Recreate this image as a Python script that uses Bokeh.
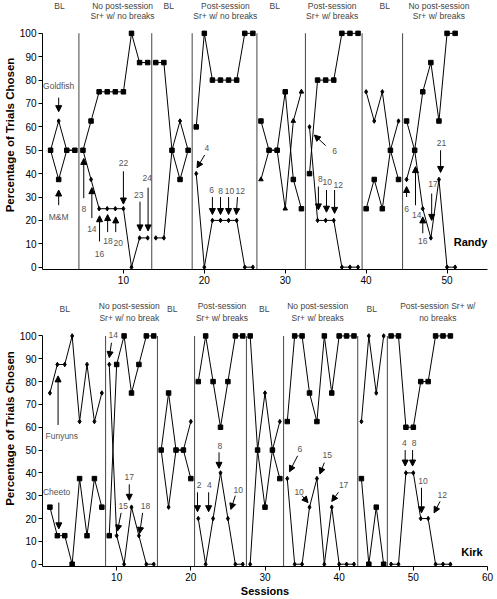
import math
from bokeh.plotting import figure
from bokeh.models import (ColumnDataSource, FixedTicker, Arrow, NormalHead, Range1d)
from bokeh.layouts import column
from bokeh.embed import file_html
from bokeh.resources import INLINE
from bokeh.core.properties import value

FONT = "Liberation Sans"

# ---------------- Randy (top panel) ----------------
randy_sessions = list(range(1, 52))
randy_a = [50, 37.5, 50, 50,
           50, 62.5, 75, 75, 75, 75, 100, 87.5, 87.5,
           87.5, 87.5, 50, 37.5, 50,
           60, 100, 80, 80, 80, 80, 100, 100,
           62.5, 50, 50, 75, 37.5, 25,
           40, 80, 80, 80, 100, 100, 100,
           25, 37.5, 25, 50, 37.5,
           62.5, 50, 75, 87.5, 62.5, 100, 100]
randy_b = [50, 62.5, 50, 50,
           50, 37.5, 25, 25, 25, 25, 0, 12.5, 12.5,
           12.5, 12.5, 50, 62.5, 50,
           40, 0, 20, 20, 20, 20, 0, 0,
           37.5, 50, 50, 25, 62.5, 75,
           60, 20, 20, 20, 0, 0, 0,
           75, 62.5, 75, 50, 62.5,
           37.5, 50, 25, 12.5, 37.5, 0, 0]
randy_phases = [4.5, 13.5, 18.5, 26.5, 32.5, 39.5, 44.5]
randy_xticks = [10, 20, 30, 40, 50]
randy_head1 = ["BL", "No post-session", "BL", "Post-session", "BL",
               "Post-session", "BL", "No post-session"]
randy_head2 = ["", "Sr+ w/ no breaks", "", "Sr+ w/ no breaks", "",
               "Sr+ w/ breaks", "", "Sr+ w/ breaks"]
randy_head_x = [2.1, 9.9, 15.6, 22.6, 28.7, 35.8, 42.3, 49.0]

randy_note_text = ["Goldfish", "M&M", "8", "14", "16", "18", "20", "22", "23", "24",
                   "4", "6", "8", "10", "12",
                   "6", "8", "10", "12",
                   "6", "14", "16", "17", "21"]
randy_note_x0 = [2.0, 2.0, 5.1, 6.1, 7.05, 8.05, 9.05, 10.0, 12.05, 13.05,
                 20.05, 21.0, 22.0, 23.0, 24.1,
                 35.0, 34.1, 35.1, 36.1,
                 45.0, 46.1, 47.0, 48.1, 49.2]
randy_note_y0 = [72.5, 26.5, 29.5, 21.0, 11.0, 15.0, 15.0, 41.0, 28.0, 34.0,
                 48.0, 30.0, 30.0, 30.0, 30.0,
                 52.0, 34.5, 33.0, 33.0,
                 30.0, 26.5, 14.5, 31.5, 50.0]
randy_note_x1 = [2.0, 2.0, 5.1, 6.1, 7.05, 8.05, 9.05, 10.0, 12.05, 13.05,
                 19.1, 21.0, 22.0, 23.0, 23.95,
                 33.6, 34.1, 35.1, 36.1,
                 45.0, 46.1, 47.0, 48.1, 49.2]
randy_note_y1 = [66.5, 33.0, 46.5, 34.0, 22.0, 22.5, 21.5, 27.0, 15.5, 15.5,
                 42.5, 22.5, 22.5, 22.5, 22.5,
                 56.5, 24.5, 23.5, 23.0,
                 34.5, 43.0, 21.5, 20.0, 40.5]
randy_note_lx = [2.0, 2.0, 5.1, 6.1, 7.05, 8.1, 9.35, 10.0, 11.9, 12.95,
                 20.3, 20.9, 22.0, 23.1, 24.45,
                 36.1, 34.35, 35.2, 36.55,
                 45.0, 46.25, 47.0, 48.25, 49.3]
randy_note_ly = [77.5, 21.5, 25.0, 16.5, 5.5, 11.0, 10.5, 44.5, 31.0, 38.0,
                 51.0, 33.0, 32.5, 32.5, 32.5,
                 49.5, 37.5, 36.5, 35.0,
                 25.0, 22.5, 11.0, 35.5, 53.0]

# ---------------- Kirk (bottom panel) ----------------
kirk_sessions = list(range(1, 56))
kirk_a = [25, 12.5, 12.5, 0, 37.5, 12.5, 37.5, 25,
          12.5, 87.5, 100, 75, 87.5, 100, 100,
          50, 75, 50, 50, 37.5,
          80, 100, 80, 60, 80, 100, 100,
          100, 50, 25, 50, 37.5,
          62.5, 100, 100, 75, 62.5, 100, 75, 100, 100, 100,
          37.5, 0, 25, 0,
          100, 100, 60, 60, 80, 80, 100, 100, 100]
kirk_b = [75, 87.5, 87.5, 100, 62.5, 87.5, 62.5, 75,
          87.5, 12.5, 0, 25, 12.5, 0, 0,
          50, 25, 50, 50, 62.5,
          20, 0, 20, 40, 20, 0, 0,
          0, 50, 75, 50, 62.5,
          37.5, 0, 0, 25, 37.5, 0, 25, 0, 0, 0,
          62.5, 100, 75, 100,
          0, 0, 40, 40, 20, 20, 0, 0, 0]
kirk_phases = [8.5, 15.5, 20.5, 27.5, 32.5, 42.5, 46.5]
kirk_xticks = [10, 20, 30, 40, 50, 60]
kirk_head1 = ["BL", "No post-session", "BL", "Post-session", "BL",
              "No post-session", "BL", "Post-session Sr+ w/"]
kirk_head2 = ["", "Sr+ w/ no break", "", "Sr+ w/ breaks", "",
              "Sr+ w/ breaks", "", "no breaks"]
kirk_head_x = [3.0, 11.7, 17.5, 24.2, 29.9, 37.1, 44.4, 53.3]

kirk_note_text = ["Funyuns", "Cheeto", "14", "15", "17", "18",
                  "2", "4", "8", "10",
                  "6", "10", "15", "17",
                  "4", "8", "10", "12"]
kirk_note_x0 = [2.1, 2.2, 9.3, 10.6, 11.7, 13.5,
                20.9, 22.4, 23.8, 26.0,
                34.4, 35.0, 38.0, 39.9,
                48.9, 49.9, 51.1, 53.6]
kirk_note_y0 = [61.0, 27.0, 97.0, 22.5, 35.0, 22.5,
                31.5, 31.5, 49.0, 30.0,
                47.5, 30.0, 44.5, 31.5,
                50.0, 50.0, 33.5, 27.5]
kirk_note_x1 = [2.1, 2.2, 9.0, 10.1, 11.7, 13.1,
                20.9, 22.4, 23.8, 25.4,
                33.3, 35.8, 37.4, 39.0,
                48.9, 49.9, 51.1, 52.8]
kirk_note_y1 = [82.5, 15.5, 90.5, 14.5, 28.0, 13.5,
                23.0, 23.0, 42.0, 24.0,
                40.5, 27.0, 39.5, 27.5,
                43.0, 43.0, 22.5, 22.5]
kirk_note_lx = [2.6, 1.9, 9.55, 10.9, 11.7, 13.9,
                21.1, 22.5, 23.9, 26.4,
                34.7, 34.6, 38.4, 40.6,
                48.8, 50.1, 51.3, 53.9]
kirk_note_ly = [56.0, 31.5, 100.5, 25.5, 38.0, 25.5,
                34.5, 34.5, 52.0, 32.5,
                50.5, 31.5, 48.0, 34.5,
                53.0, 53.0, 36.5, 30.5]


def split_by_phase(sessions, vals, phases):
    bounds = [-math.inf] + list(phases) + [math.inf]
    xs, ys = [], []
    for lo, hi in zip(bounds[:-1], bounds[1:]):
        seg = [(s, v) for s, v in zip(sessions, vals) if lo < s < hi]
        if seg:
            xs.append([s for s, _ in seg])
            ys.append([v for _, v in seg])
    return xs, ys


def make_panel(sessions, a, b, phases, xmax, xticks, height, ytop,
               mbl, mbr, mbb, head1, head2, head_x, head_y1, head_y2, bl_y,
               nt, nx0, ny0, nx1, ny1, nlx, nly, name, name_x, name_y,
               xlabel=None, tri_phase=None):
    p = figure(width=497, height=height, x_range=Range1d(0, xmax),
               y_range=Range1d(-1, ytop), output_backend="svg",
               toolbar_location=None, min_border_left=mbl, min_border_right=mbr,
               min_border_top=0, min_border_bottom=mbb)
    p.xgrid.visible = False
    p.ygrid.visible = False
    p.outline_line_color = None
    p.background_fill_color = "white"
    p.border_fill_color = "white"

    for ax in (p.xaxis, p.yaxis):
        ax.axis_line_color = "black"
        ax.major_tick_line_color = "black"
        ax.major_tick_in = 0
        ax.major_tick_out = 4
        ax.minor_tick_line_color = None
        ax.major_label_text_font = FONT
        ax.major_label_text_font_size = "10px"
        ax.major_label_text_color = "black"
        ax.major_label_standoff = 2
        ax.axis_label_text_font = FONT
        ax.axis_label_text_font_style = "bold"
        ax.axis_label_text_color = "black"
        ax.axis_label_standoff = 1
    p.xaxis.ticker = FixedTicker(ticks=xticks)
    p.yaxis.ticker = FixedTicker(ticks=list(range(0, 101, 10)))
    p.yaxis.bounds = (-1, 100)
    p.yaxis.axis_label = "Percentage of Trials Chosen"
    p.yaxis.axis_label_text_font_size = "11.5px"
    if xlabel:
        p.xaxis.axis_label = xlabel
        p.xaxis.axis_label_text_font_size = "11px"

    # phase change lines
    p.segment(x0=phases, x1=phases, y0=[-1] * len(phases), y1=[100] * len(phases),
              line_color="#555555", line_width=1.1)

    # data lines split by phase
    for vals in (a, b):
        xs, ys = split_by_phase(sessions, vals, phases)
        p.multi_line(xs, ys, line_color="black", line_width=1)

    p.scatter(sessions, a, marker="square", size=4.5, fill_color="black",
              line_color="black")
    mk = []
    for s in sessions:
        if tri_phase is not None and tri_phase[0] < s < tri_phase[1]:
            mk.append("triangle")
        else:
            mk.append("diamond")
    src_b = ColumnDataSource(dict(x=sessions, y=b, m=mk))
    p.scatter("x", "y", marker="m", source=src_b, size=4.5, fill_color="black",
              line_color="black")

    # annotation arrows
    arr_src = ColumnDataSource(dict(x0=nx0, y0=ny0, x1=nx1, y1=ny1))
    p.add_layout(Arrow(end=NormalHead(size=6, fill_color="black",
                                      line_color="black", line_width=1),
                       x_start="x0", y_start="y0", x_end="x1", y_end="y1",
                       source=arr_src, line_color="black", line_width=1))
    p.text(x=nlx, y=nly, text=nt, text_font=value(FONT),
           text_font_size="8.5px", text_color="#555555",
           text_align="center", text_baseline="middle")

    # phase headings
    l1_y = [bl_y if t == "BL" else head_y1 for t in head1]
    p.text(x=head_x, y=l1_y, text=head1, text_font=value(FONT),
           text_font_size="8.5px", text_color="#444444",
           text_align="center", text_baseline="middle")
    p.text(x=head_x, y=[head_y2] * len(head2), text=head2, text_font=value(FONT),
           text_font_size="8.5px", text_color="#444444",
           text_align="center", text_baseline="middle")

    # participant name
    p.text(x=[name_x], y=[name_y], text=[name], text_font=value(FONT),
           text_font_size="11px", text_font_style="bold", text_color="black",
           text_align="center", text_baseline="middle")
    return p


top = make_panel(randy_sessions, randy_a, randy_b, randy_phases, 55, randy_xticks,
                 290, 114.05, 40, 10, 21,
                 randy_head1, randy_head2, randy_head_x, 111.9, 107.6, 111.5,
                 randy_note_text, randy_note_x0, randy_note_y0, randy_note_x1,
                 randy_note_y1, randy_note_lx, randy_note_ly,
                 "Randy", 52.9, 10.9, tri_phase=(26.5, 32.5))

bottom = make_panel(kirk_sessions, kirk_a, kirk_b, kirk_phases, 60, kirk_xticks,
                    309, 119.9, 42, 5, 33,
                    kirk_head1, kirk_head2, kirk_head_x, 112.9, 107.9, 112.0,
                    kirk_note_text, kirk_note_x0, kirk_note_y0, kirk_note_x1,
                    kirk_note_y1, kirk_note_lx, kirk_note_ly,
                    "Kirk", 57.9, 5.3, xlabel="Sessions")

layout = column(top, bottom, spacing=0)
open("out.html", "w").write(file_html(layout, INLINE))
